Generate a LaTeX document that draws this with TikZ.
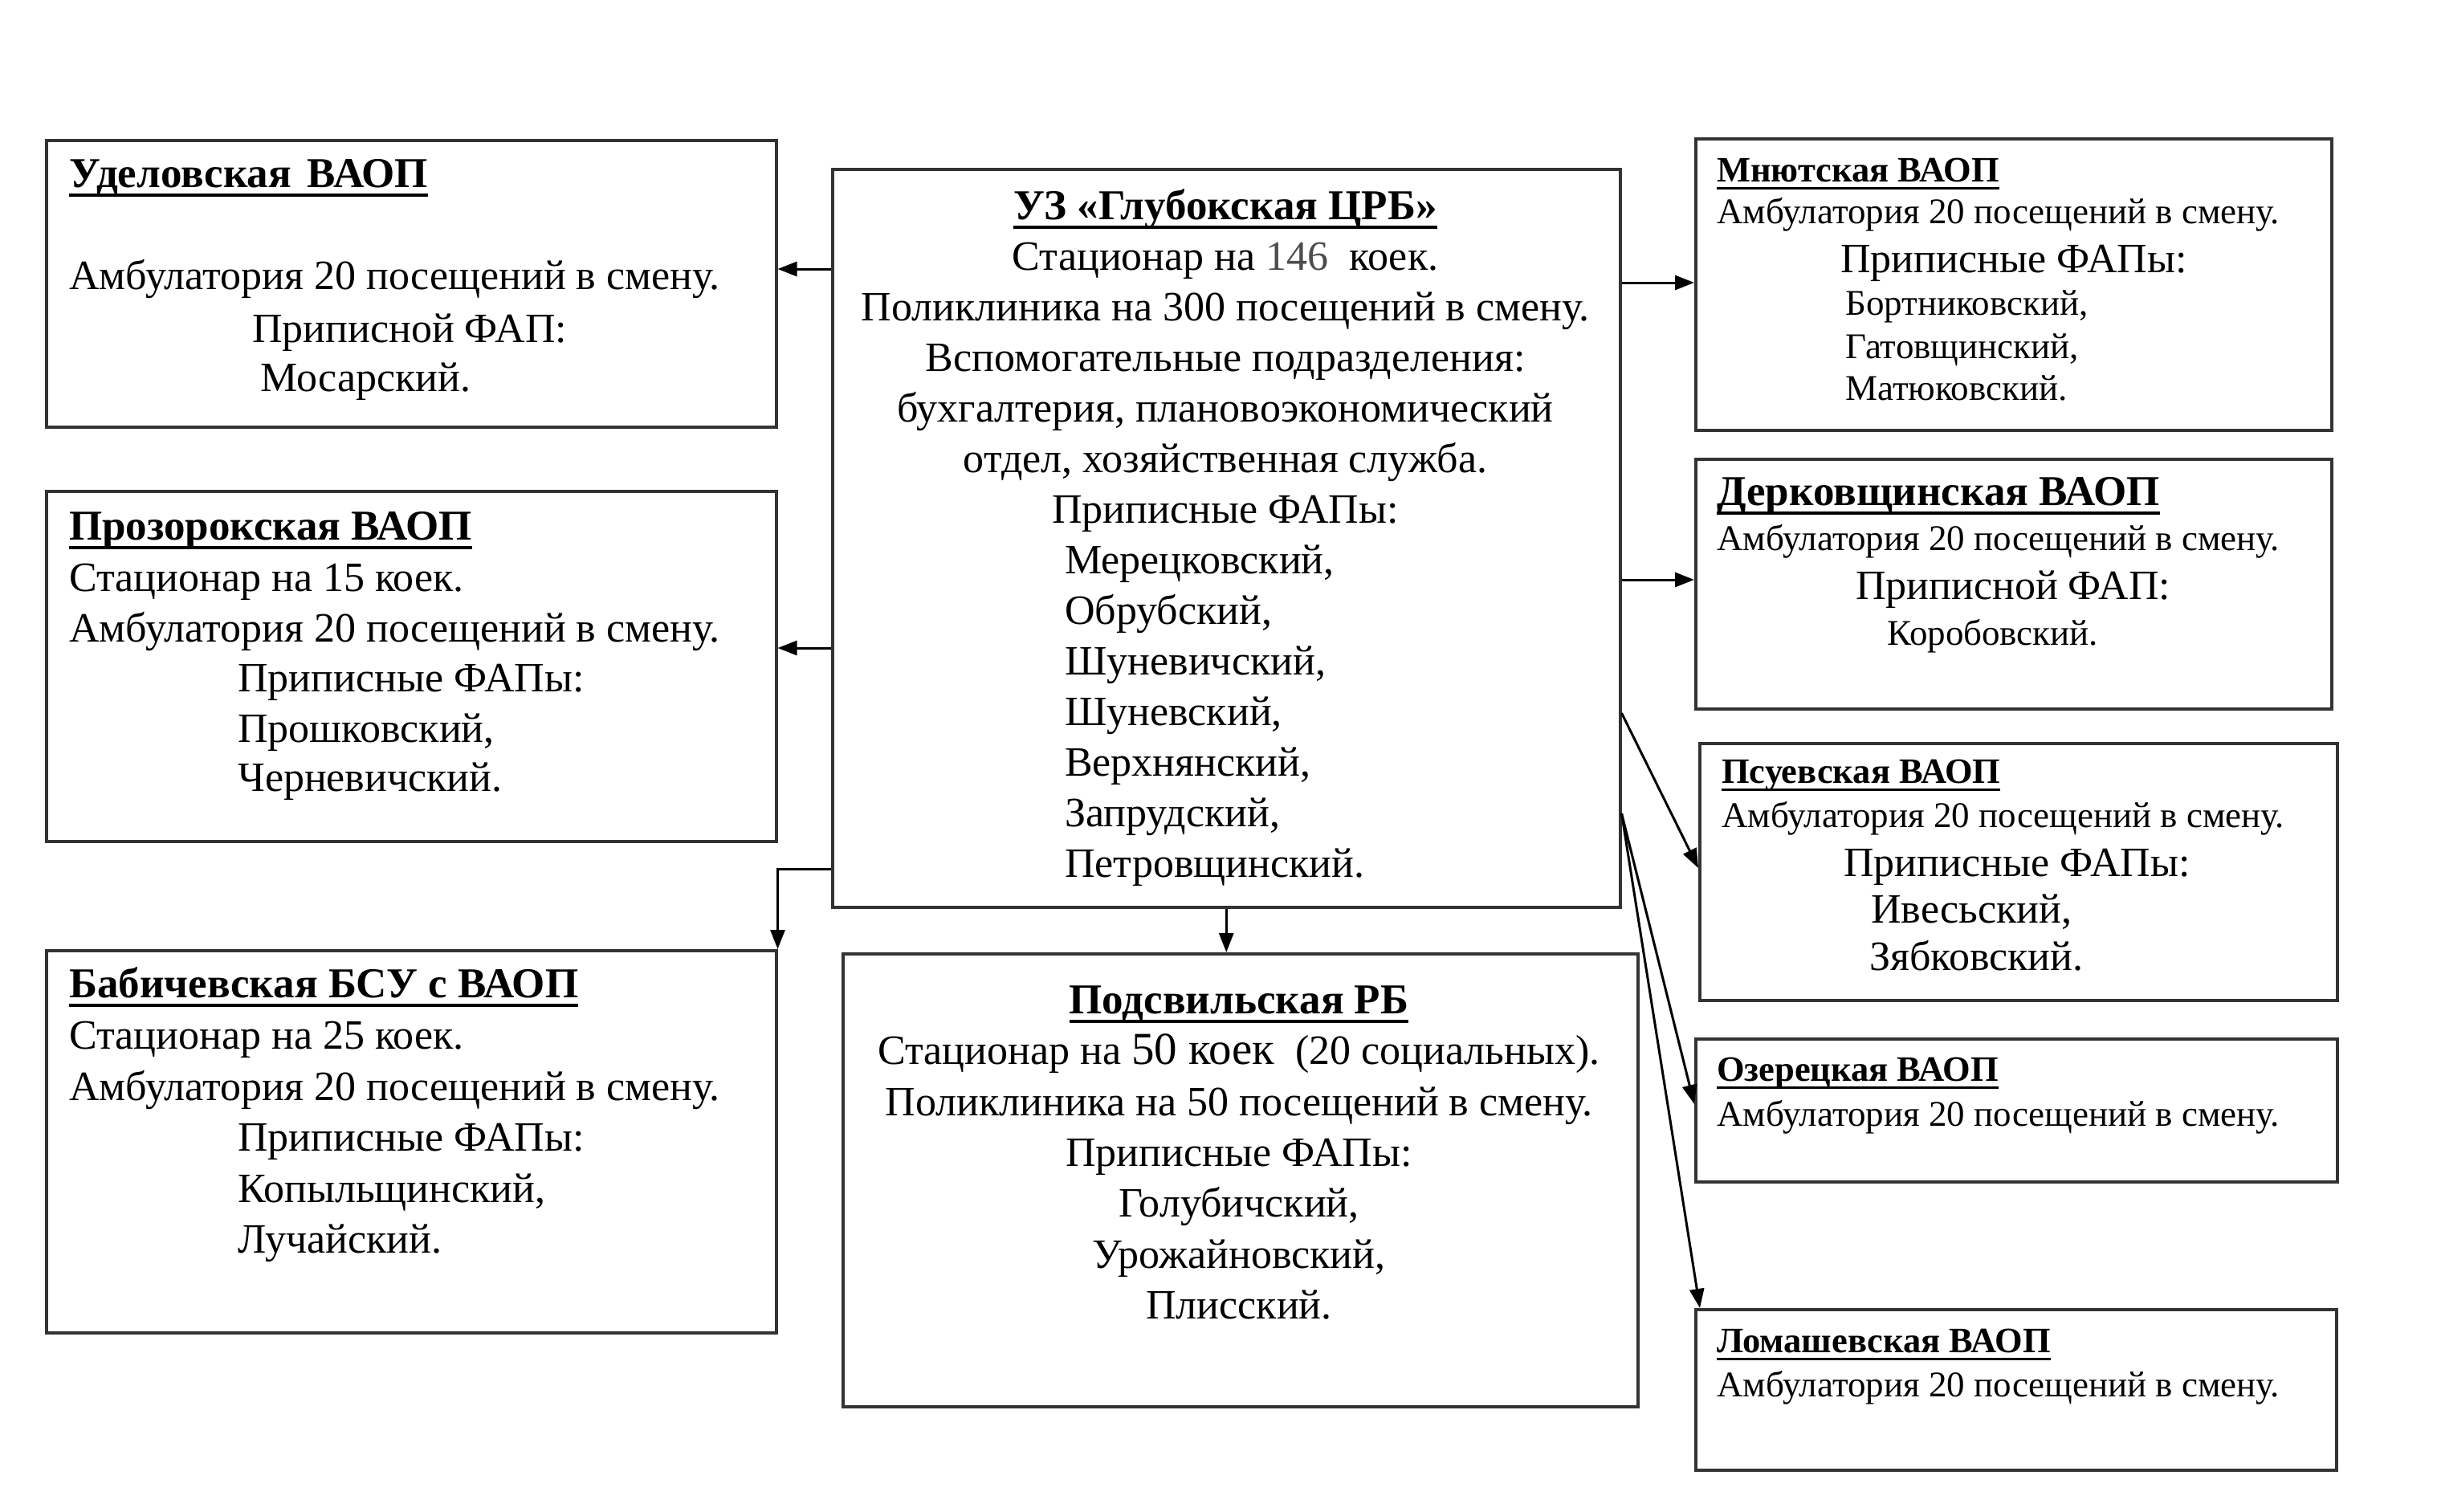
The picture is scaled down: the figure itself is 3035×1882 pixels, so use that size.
\documentclass[tikz,border=0pt]{standalone}
\usepackage{fontspec}
\setmainfont{Liberation Serif}
\usetikzlibrary{arrows.meta}
\newcommand\ulbox[1]{\setbox0=\hbox{#1}\rlap{\rule[-12pt]{\wd0}{4pt}}\box0}
\newcommand\ulboxs[1]{\setbox0=\hbox{#1}\rlap{\rule[-10pt]{\wd0}{3.5pt}}\box0}
\begin{document}
\begin{tikzpicture}[x=1pt,y=-1pt,
  box/.style={draw=black!80, line width=3.5pt, anchor=north west, inner sep=0pt},
  arr/.style={draw=black, line width=3pt, -{Triangle[length=24pt,width=18pt]}},
  t/.style={anchor=base west, inner sep=0pt, font=\fontsize{52}{60}\selectfont},
  tc/.style={t, anchor=base},
  ts/.style={t, font=\fontsize{45}{52}\selectfont},
  hb/.style={t, font=\fontsize{53}{60}\selectfont\bfseries},
  hbc/.style={hb, anchor=base},
  hbs/.style={t, font=\fontsize{44.5}{52}\selectfont\bfseries}]
\fill[white] (0,0) rectangle (3035,1882);
\useasboundingbox (0,0) rectangle (3035,1882);

% boxes
\node[box, minimum width=981pt, minimum height=919pt] (central) at (1035,209) {};
\node[box, minimum width=990pt, minimum height=564pt] (podsv) at (1048,1186) {};
\node[box, minimum width=909pt, minimum height=357pt] (udel) at (56,173) {};
\node[box, minimum width=909pt, minimum height=436pt] (proz) at (56,610) {};
\node[box, minimum width=909pt, minimum height=476pt] (babich) at (56,1182) {};
\node[box, minimum width=792pt, minimum height=363pt] (mnyut) at (2110,171) {};
\node[box, minimum width=792pt, minimum height=311pt] (derk) at (2110,570) {};
\node[box, minimum width=794pt, minimum height=320pt] (psuev) at (2115,924) {};
\node[box, minimum width=799pt, minimum height=178pt] (ozer) at (2110,1292) {};
\node[box, minimum width=798pt, minimum height=200pt] (lomash) at (2110,1629) {};

% central text
\node[hbc] (c1) at (1526,273) {\ulbox{УЗ «Глубокская ЦРБ»}};
\node[tc] (c2) at (1526,336) {Стационар на {\color{black!70}146}\ \ коек.};
\node[tc] (c3) at (1526,399) {Поликлиника на 300 посещений в смену.};
\node[tc] (c4) at (1526,462) {Вспомогательные подразделения:};
\node[tc] (c5) at (1526,525) {бухгалтерия, плановоэкономический};
\node[tc] (c6) at (1526,588) {отдел, хозяйственная служба.};
\node[tc] (c7) at (1526,651) {Приписные ФАПы:};
\node[t] (c8) at (1326,714) {Мерецковский,};
\node[t] (c9) at (1326,777) {Обрубский,};
\node[t] (c10) at (1326,840) {Шуневичский,};
\node[t] (c11) at (1326,903) {Шуневский,};
\node[t] (c12) at (1326,966) {Верхнянский,};
\node[t] (c13) at (1326,1029) {Запрудский,};
\node[t] (c14) at (1326,1092) {Петровщинский.};

% Podsvilskaya
\node[hbc] (p1) at (1543,1262) {\ulbox{Подсвильская РБ}};
\node[tc] (p2) at (1543,1325) {Стационар на {\fontsize{57}{60}\selectfont 50 коек}\ \ (20 социальных).};
\node[tc] (p3) at (1543,1389) {Поликлиника на 50 посещений в смену.};
\node[tc] (p4) at (1543,1452) {Приписные ФАПы:};
\node[tc] (p5) at (1543,1515) {Голубичский,};
\node[tc] (p6) at (1543,1579) {Урожайновский,};
\node[tc] (p7) at (1543,1642) {Плисский.};

% Udelovskaya
\node[hb] (u1) at (86,233) {\ulbox{Уделовская\hspace{20pt}ВАОП}};
\node[t] (u2) at (86,360) {Амбулатория 20 посещений в смену.};
\node[t] (u3) at (314,426) {Приписной ФАП:};
\node[t] (u4) at (324,487) {Мосарский.};

% Prozorokskaya
\node[hb] (z1) at (86,672) {\ulbox{Прозорокская ВАОП}};
\node[t] (z2) at (86,736) {Стационар на 15 коек.};
\node[t] (z3) at (86,799) {Амбулатория 20 посещений в смену.};
\node[t] (z4) at (296,861) {Приписные ФАПы:};
\node[t] (z5) at (296,924) {Прошковский,};
\node[t] (z6) at (296,985) {Черневичский.};

% Babichevskaya
\node[hb] (b1) at (86,1242) {\ulbox{Бабичевская БСУ с ВАОП}};
\node[t] (b2) at (86,1306) {Стационар на 25 коек.};
\node[t] (b3) at (86,1370) {Амбулатория 20 посещений в смену.};
\node[t] (b4) at (296,1433) {Приписные ФАПы:};
\node[t] (b5) at (296,1497) {Копыльщинский,};
\node[t] (b6) at (296,1560) {Лучайский.};

% Mnyutskaya
\node[hbs] (m1) at (2138,226) {\ulboxs{Мнютская ВАОП}};
\node[ts] (m2) at (2138,278) {Амбулатория 20 посещений в смену.};
\node[t] (m3) at (2292,339) {Приписные ФАПы:};
\node[ts] (m4) at (2298,392) {Бортниковский,};
\node[ts] (m5) at (2298,446) {Гатовщинский,};
\node[ts] (m6) at (2298,498) {Матюковский.};

% Derkovshchinskaya
\node[hb] (d1) at (2138,629) {\ulbox{Дерковщинская ВАОП}};
\node[ts] (d2) at (2138,685) {Амбулатория 20 посещений в смену.};
\node[t] (d3) at (2311,746) {Приписной ФАП:};
\node[ts] (d4) at (2350,803) {Коробовский.};

% Psuevskaya
\node[hbs] (s1) at (2144,975) {\ulboxs{Псуевская ВАОП}};
\node[ts] (s2) at (2144,1030) {Амбулатория 20 посещений в смену.};
\node[t] (s3) at (2296,1091) {Приписные ФАПы:};
\node[t] (s4) at (2330,1149) {Ивесьский,};
\node[t] (s5) at (2328,1208) {Зябковский.};

% Ozeretskaya
\node[hbs] (o1) at (2138,1346) {\ulboxs{Озерецкая ВАОП}};
\node[ts] (o2) at (2138,1402) {Амбулатория 20 посещений в смену.};

% Lomashevskaya
\node[hbs] (l1) at (2138,1684) {\ulboxs{Ломашевская ВАОП}};
\node[ts] (l2) at (2138,1739) {Амбулатория 20 посещений в смену.};

% connector levels
\coordinate (yU) at (0,335);
\coordinate (yP) at (0,807);
\coordinate (yB) at (0,1082);
\coordinate (yM) at (0,352);
\coordinate (yD) at (0,722);
\coordinate (yS) at (0,888);
\coordinate (yO) at (0,1013);
\coordinate (ePs) at (0,1081);
\coordinate (eOz) at (0,1375);

% connectors
\draw[arr] (central.west |- yU) -- (udel.east |- yU);
\draw[arr] (central.west |- yP) -- (proz.east |- yP);
\draw[arr] (central.west |- yB) -| (babich.north east);
\draw[arr] (central.south) -- (central.south |- podsv.north);
\draw[arr] (central.east |- yM) -- (mnyut.west |- yM);
\draw[arr] (central.east |- yD) -- (derk.west |- yD);
\draw[arr] (central.east |- yS) -- (psuev.west |- ePs);
\draw[arr] (central.east |- yO) -- (ozer.west |- eOz);
\draw[arr] (central.east |- yO) -- ([xshift=7pt]lomash.north west);
\end{tikzpicture}
\end{document}
